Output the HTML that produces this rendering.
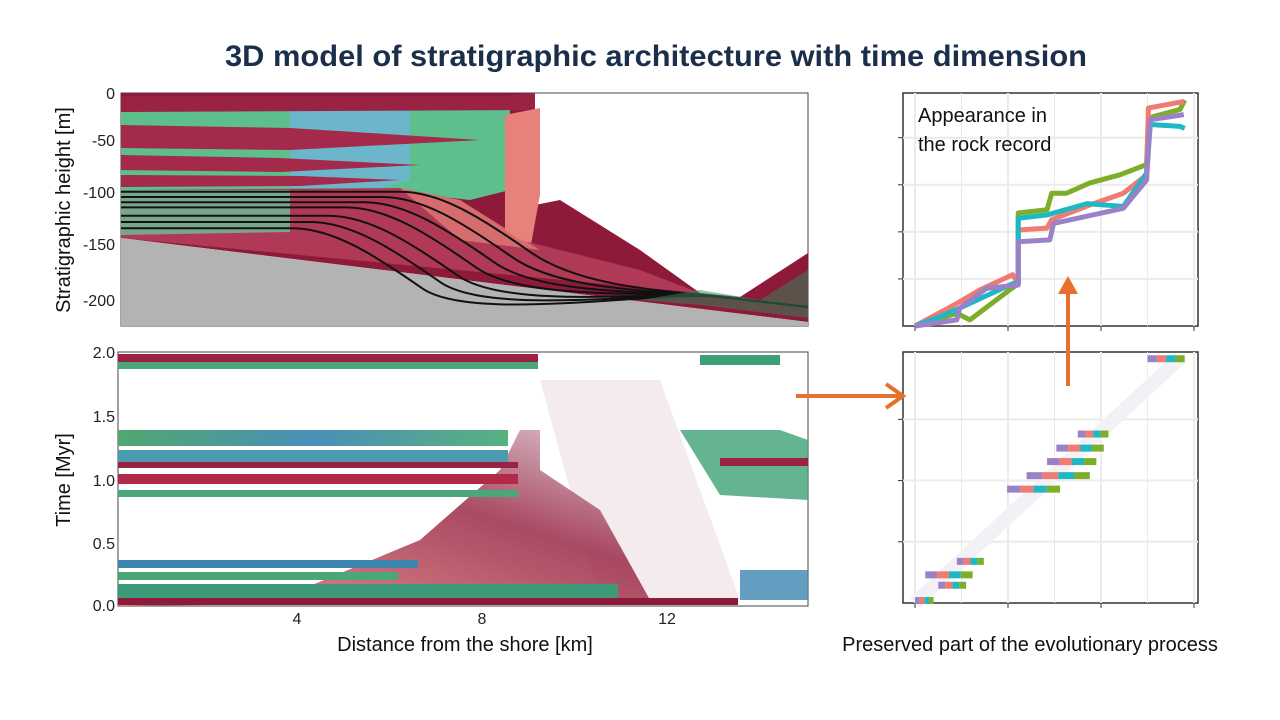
<!DOCTYPE html>
<html><head><meta charset="utf-8">
<style>
body{margin:0;background:#fff;width:1280px;height:720px;overflow:hidden;font-family:"Liberation Sans",sans-serif}
svg{position:absolute;left:0;top:0}
</style></head>
<body>
<svg id="s" width="1280" height="720">
<defs>
<linearGradient id="gb" x1="0" x2="1"><stop offset="0" stop-color="#4fa870"/><stop offset="0.5" stop-color="#4a8fb8"/><stop offset="1" stop-color="#57b27f"/></linearGradient>
<linearGradient id="diag" x1="0" y1="1" x2="1" y2="0"><stop offset="0" stop-color="#e77f7a"/><stop offset="0.6" stop-color="#9a2a48"/><stop offset="1" stop-color="#d9c3cc"/></linearGradient>
</defs>
<text x="656" y="66" text-anchor="middle" font-size="30" font-weight="bold" fill="#1b2f4b" textLength="862" lengthAdjust="spacingAndGlyphs">3D model of stratigraphic architecture with time dimension</text>

<!-- TOP LEFT -->
<g>
<rect x="121" y="93" width="687" height="233" fill="#fff" stroke="#444" stroke-width="1"/>
<polygon points="121,93 535,93 535,205 560,200 640,250 700,293 740,297 808,253 808,322 121,238" fill="#8e1a3a"/>
<polygon points="121,100 510,100 510,190 470,200 380,190 121,190" fill="#5cbf8c"/>
<polygon points="290,110 410,110 410,180 380,188 290,188" fill="#6fb4d6" opacity="0.85"/>
<polygon points="121,96 290,96 500,96 535,93 535,110 121,112" fill="#9a2344"/>
<polygon points="121,125 290,128 480,140 290,150 121,148" fill="#a32a4a"/>
<polygon points="121,155 280,158 420,165 280,172 121,170" fill="#a32a4a"/>
<polygon points="121,175 300,176 400,180 300,186 121,187" fill="#a32a4a"/>
<polygon points="505,115 540,108 540,195 530,250 505,240" fill="#e8817a"/>
<polygon points="121,190 400,188 460,200 520,240 640,270 700,293 121,238" fill="#b03a55"/>
<polygon points="121,190 290,190 290,232 121,235" fill="#6cc09a" opacity="0.8"/>
<polygon points="400,188 460,200 540,250 460,240" fill="#e8817a" opacity="0.7"/>
<polygon points="121,238 808,322 808,326 121,326" fill="#b3b3b3"/>
<g id="blines" fill="none" stroke="#111" stroke-width="2"></g>
<polygon points="640,300 700,290 760,300 808,270 808,318 700,305" fill="#2b8a5a" opacity="0.5"/>
<g font-size="16" fill="#222" text-anchor="end">
<text x="115" y="99">0</text><text x="115" y="146">-50</text><text x="115" y="198">-100</text><text x="115" y="250">-150</text><text x="115" y="306">-200</text>
</g>
<text transform="translate(70,210) rotate(-90)" text-anchor="middle" font-size="20" fill="#111">Stratigraphic height [m]</text>
</g>

<!-- BOTTOM LEFT -->
<g>
<rect x="118" y="352" width="690" height="254" fill="#fff" stroke="#444"/>
<polygon points="540,380 660,380 740,600 600,600" fill="#efe3e8" opacity="0.7"/>
<polygon points="118,603 300,590 420,540 500,470 520,430 540,430 540,470 600,510 650,600 118,606" fill="url(#diag)" opacity="0.85"/>
<rect x="118" y="354" width="420" height="8" fill="#9a2344"/>
<rect x="118" y="362" width="420" height="7" fill="#4aa878"/>
<rect x="118" y="430" width="390" height="16" fill="url(#gb)"/>
<rect x="118" y="450" width="390" height="12" fill="#4a9bb0"/>
<rect x="118" y="462" width="400" height="6" fill="#9a2344"/>
<rect x="118" y="474" width="400" height="10" fill="#b2294a"/>
<rect x="118" y="490" width="400" height="7" fill="#4aa878"/>
<rect x="118" y="560" width="300" height="8" fill="#3c86b0"/>
<rect x="118" y="572" width="280" height="8" fill="#4aa878"/>
<rect x="118" y="584" width="500" height="14" fill="#3c9a78"/>
<rect x="118" y="598" width="620" height="7" fill="#8e1a3a"/>
<polygon points="680,430 780,430 808,440 808,500 720,495" fill="#3da075" opacity="0.8"/>
<rect x="720" y="458" width="88" height="8" fill="#9a2344"/>
<rect x="700" y="355" width="80" height="10" fill="#3da075"/>
<rect x="740" y="570" width="68" height="30" fill="#3c86b0" opacity="0.8"/>
<g font-size="16" fill="#222" text-anchor="end">
<text x="115" y="358">2.0</text><text x="115" y="422">1.5</text><text x="115" y="486">1.0</text><text x="115" y="549">0.5</text><text x="115" y="611">0.0</text>
</g>
<g font-size="16" fill="#222" text-anchor="middle"><text x="297" y="624">4</text><text x="482" y="624">8</text><text x="667" y="624">12</text></g>
<text transform="translate(70,480) rotate(-90)" text-anchor="middle" font-size="20" fill="#111">Time [Myr]</text>
<text x="465" y="651" text-anchor="middle" font-size="20" fill="#111">Distance from the shore [km]</text>
</g>

<!-- RIGHT PANELS -->
<g id="rt"></g>
<g id="rb"></g>
<text x="918" y="122" font-size="20" fill="#111">Appearance in</text>
<text x="918" y="151" font-size="20" fill="#111">the rock record</text>
<text x="1030" y="651" text-anchor="middle" font-size="20" fill="#111">Preserved part of the evolutionary process</text>

<!-- arrows -->
<g fill="#e8702f" stroke="#e8702f">
<line x1="796" y1="396" x2="900" y2="396" stroke-width="4"/>
<polyline points="886,384 903,396 886,408" fill="none" stroke-width="4"/>
<line x1="1068" y1="386" x2="1068" y2="293" stroke-width="4"/>
<polygon points="1058,294 1078,294 1068,276" stroke="none"/>
</g>
</svg>
<script>
// top-right series (x in time units 0..3, y in height units)
const greenX=[0,0.45,0.59,1.02,1.11,1.11,1.42,1.47,1.63,1.88,2.2,2.49,2.51,2.85,2.9];
const greenY=[0,0.27,0.13,0.77,0.9,2.4,2.47,2.82,2.82,3.04,3.21,3.43,4.42,4.6,4.8];
const redX=[0,0.45,0.7,1.05,1.11,1.11,1.42,1.47,1.88,2.24,2.49,2.51,2.89];
const redY=[0,0.48,0.77,1.09,0.9,2.04,2.08,2.26,2.57,2.82,3.21,4.63,4.77];
const tealX=[0,0.27,0.48,1.05,1.11,1.11,1.42,1.85,2.24,2.49,2.53,2.85,2.9];
const tealY=[0,0.2,0.38,0.9,0.9,2.29,2.36,2.6,2.54,3.25,4.28,4.24,4.2];
const purpleX=[0,0.45,0.48,0.77,1.11,1.11,1.45,1.49,2.24,2.49,2.53,2.89];
const purpleY=[0,0.13,0.38,0.8,0.87,1.79,1.83,2.18,2.5,3.1,4.38,4.49];
// bottom-right preserved segments: time level, start, end (x units)
const segY=[3.99,2.76,2.53,2.31,2.08,1.86,0.68,0.46,0.29,0.04];
const segStart=[2.5,1.75,1.52,1.42,1.2,0.99,0.45,0.11,0.25,0];
const segEnd=[2.9,2.08,2.03,1.95,1.88,1.56,0.74,0.62,0.55,0.2];
// stratigraphic horizon depths (m) at the left edge
const horizons=[-95,-100,-105,-110,-118,-124,-130];

const NS='http://www.w3.org/2000/svg';
function mk(t,a,p){const e=document.createElementNS(NS,t);for(const k in a)e.setAttribute(k,a[k]);p.appendChild(e);return e;}
const X0=915,XS=93; const sx=v=>X0+v*XS;
const syT=v=>326-v*(233/4.95);
const syB=v=>603-v*(251/4.1);
const rt=document.getElementById('rt'), rb=document.getElementById('rb');
function frame(g,top,bot,yt){
  mk('rect',{x:903,y:top,width:295,height:bot-top,fill:'#fff',stroke:'#333','stroke-width':1.5},g);
  for(let i=0;i<=6;i++){const x=sx(i*0.5);mk('line',{x1:x,x2:x,y1:top,y2:bot,stroke:'#ebebeb','stroke-width':i%2?1:2},g);}
  yt.forEach((y,i)=>{mk('line',{x1:903,x2:1198,y1:y,y2:y,stroke:'#ebebeb','stroke-width':2},g);mk('line',{x1:898,x2:903,y1:y,y2:y,stroke:'#333'},g);});
  for(let i=0;i<=3;i++){const x=sx(i);mk('line',{x1:x,x2:x,y1:bot,y2:bot+5,stroke:'#333'},g);}
}
frame(rt,93,326,[1,2,3,4].map(syT));
frame(rb,352,603,[1,2,3].map(syB));
function series(xs,ys,c,name){
  const p=mk('polyline',{points:xs.map((x,i)=>sx(x)+','+syT(ys[i])).join(' '),fill:'none',stroke:c,'stroke-width':5,'stroke-linejoin':'round'},rt);
  
  
}
series(greenX,greenY,'#7cae2a','series-green');
series(redX,redY,'#f07b72','series-red');
series(tealX,tealY,'#1fb8c2','series-teal');
series(purpleX,purpleY,'#9b82c8','series-purple');
// faint diagonal trace
const fd=mk('line',{x1:sx(0),y1:syB(0),x2:sx(2.85),y2:syB(4),stroke:'#f3f0f6','stroke-width':14},rb);


const cols=['#9b82c8','#f07b72','#1fb8c2','#7cae2a'];
segY.forEach((y,i)=>{
  const w=(segEnd[i]-segStart[i])/4;
  cols.forEach((c,j)=>{
    const r=mk('line',{x1:sx(segStart[i]+j*w),x2:sx(segStart[i]+(j+1)*w),y1:syB(y),y2:syB(y),stroke:c,'stroke-width':7},rb);
    
    
  });
});
// horizons in top-left panel
const bl=document.getElementById('blines');
const syS=m=>93-m*1.04;
horizons.forEach((h,i)=>{
  const kx=400-i*18, y0=syS(h);
  const d=`M121,${y0} L${kx},${y0} C${kx+40},${y0} ${kx+80},${y0+25} ${kx+130},${y0+60} S${660},${290} ${720},${297} L808,${307}`;
  const p=mk('path',{d:d},bl);
  
  
});
</script>
</body></html>
